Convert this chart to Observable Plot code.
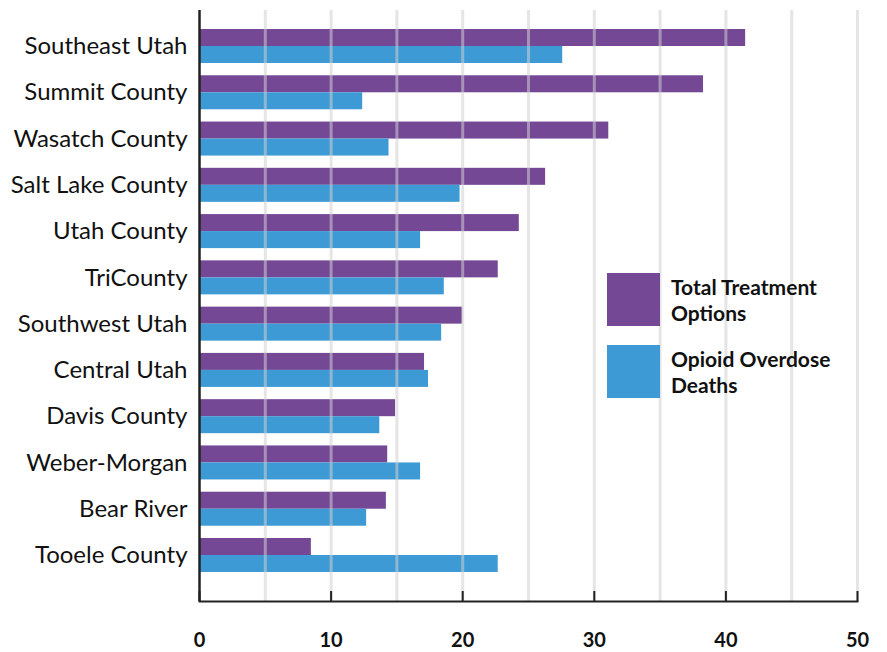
<!DOCTYPE html>
<html>
<head>
<meta charset="utf-8">
<script src="https://cdn.jsdelivr.net/npm/d3@7"></script>
<script src="https://cdn.jsdelivr.net/npm/@observablehq/plot@0.6"></script>
<style>
  html, body { margin: 0; padding: 0; background: #fff; }
  #wrap { position: relative; width: 887px; height: 652px; font-family: Lato, sans-serif; }
  .leg { position: absolute; left: 607px; display: flex; align-items: center; }
  .sw { width: 53px; height: 53px; flex: none; }
  .lt { margin-left: 11px; font-weight: bold; font-size: 21px; line-height: 25.5px; color: #111; }
</style>
</head>
<body>
<div id="wrap"></div>
<script>
const categories = ["Southeast Utah", "Summit County", "Wasatch County", "Salt Lake County", "Utah County", "TriCounty", "Southwest Utah", "Central Utah", "Davis County", "Weber-Morgan", "Bear River", "Tooele County"];
const treatment = [41.5, 38.3, 31.1, 26.3, 24.3, 22.7, 20.0, 17.1, 14.9, 14.3, 14.2, 8.5];
const deaths = [27.6, 12.4, 14.4, 19.8, 16.8, 18.6, 18.4, 17.4, 13.7, 16.8, 12.7, 22.7];
const seriesNames = ["Total Treatment Options", "Opioid Overdose Deaths"];
const seriesLegendLines = [["Total Treatment", "Options"], ["Opioid Overdose", "Deaths"]];
const xTicks = [0, 10, 20, 30, 40, 50];
const gridTicks = [5, 10, 15, 20, 25, 30, 35, 40, 45, 50];

const purple = "#744895";
const blue = "#3d9ad4";

const tData = categories.map((c, i) => ({region: c, value: treatment[i]}));
const dData = categories.map((c, i) => ({region: c, value: deaths[i]}));

const half = 17;

const chart = Plot.plot({
  width: 887,
  height: 652,
  marginLeft: 199,
  marginRight: 30,
  marginTop: 10,
  marginBottom: 51,
  style: {fontFamily: "Lato, sans-serif", background: "#fff", color: "#111"},
  x: {domain: [0, 50]},
  y: {domain: categories, paddingInner: 0.265, paddingOuter: 0, insetTop: 19, insetBottom: 29, round: false},
  marks: [
    Plot.barX(tData, {y: "region", x: "value", fill: purple, insetBottom: half}),
    Plot.barX(dData, {y: "region", x: "value", fill: blue, insetTop: half}),
    Plot.ruleX(gridTicks, {stroke: "#cfcfd2", strokeOpacity: 0.55, strokeWidth: 3}),
    Plot.ruleX(xTicks, {stroke: "#222", strokeWidth: 2, insetTop: 581}),
    Plot.ruleX([0], {stroke: "#222", strokeWidth: 2.5}),
    Plot.frame({anchor: "bottom", stroke: "#222", strokeWidth: 2}),
    Plot.axisY({tickSize: 0, tickPadding: 12, fontSize: 24, fill: "#111", label: null}),
    Plot.axisX({ticks: xTicks, tickSize: 0, tickPadding: 31, fontSize: 20, fontWeight: "bold", fill: "#111", label: null})
  ]
});
const wrap = document.getElementById("wrap");
wrap.appendChild(chart);

const tops = [273, 345];
const colors = [purple, blue];
seriesNames.forEach((name, i) => {
  const d = document.createElement("div");
  d.className = "leg";
  d.style.top = tops[i] + "px";
  d.title = name;
  const sw = document.createElement("div");
  sw.className = "sw";
  sw.style.background = colors[i];
  const t = document.createElement("div");
  t.className = "lt";
  t.innerHTML = seriesLegendLines[i].join("<br>");
  d.appendChild(sw);
  d.appendChild(t);
  wrap.appendChild(d);
});
</script>
</body>
</html>
